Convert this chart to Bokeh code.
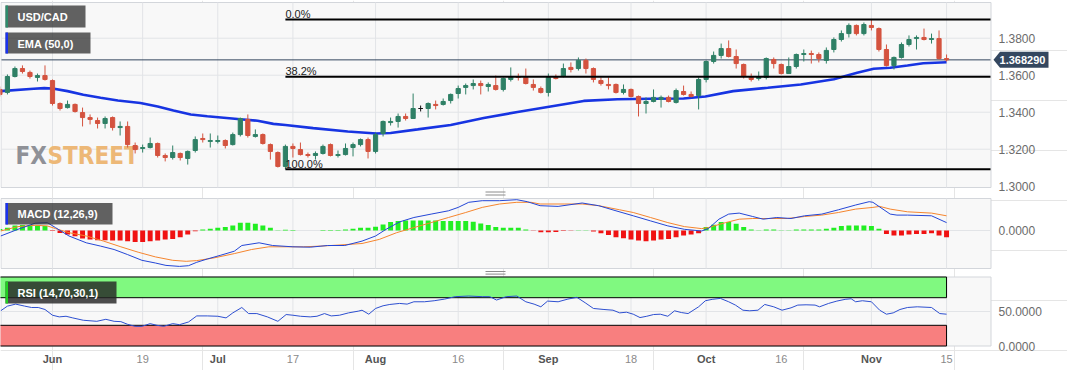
import numpy as np
from bokeh.plotting import figure
from bokeh.models import ColumnDataSource, Range1d
from bokeh.core.properties import value
from bokeh.embed import file_html
from bokeh.resources import INLINE

# ---------------------------------------------------------------- data
# trading-day index of the first candle (0 = 1 Jun 2023, 119 = 15 Nov 2023)
first_index = -7
opens = [1.3523, 1.3507, 1.3593, 1.3636, 1.3615, 1.3588, 1.3598,
         1.3571, 1.3447, 1.3425, 1.3442, 1.3398, 1.3371, 1.3355, 1.3339, 1.3371, 1.3317,
         1.3323, 1.3220, 1.3204, 1.3209, 1.3231, 1.3166, 1.3155, 1.3177, 1.3150, 1.3193,
         1.3258, 1.3242, 1.3242, 1.3247, 1.3225, 1.3279, 1.3361, 1.3269, 1.3279, 1.3225,
         1.3182, 1.3107, 1.3215, 1.3198, 1.3171, 1.3166, 1.3177, 1.3225, 1.3166, 1.3171,
         1.3209, 1.3225, 1.3252, 1.3188, 1.3285, 1.3344, 1.3350, 1.3377, 1.3366, 1.3420,
         1.3420, 1.3442, 1.3442, 1.3463, 1.3501, 1.3534, 1.3544, 1.3555, 1.3539, 1.3544,
         1.3523, 1.3577, 1.3593, 1.3588, 1.3550, 1.3528, 1.3507, 1.3588, 1.3593, 1.3642,
         1.3636, 1.3680, 1.3636, 1.3571, 1.3550, 1.3550, 1.3507, 1.3523, 1.3485, 1.3447,
         1.3458, 1.3469, 1.3480, 1.3453, 1.3512, 1.3496, 1.3490, 1.3577, 1.3674, 1.3707,
         1.3744, 1.3701, 1.3658, 1.3588, 1.3582, 1.3588, 1.3685, 1.3658, 1.3609, 1.3647,
         1.3712, 1.3717, 1.3712, 1.3680, 1.3739, 1.3793, 1.3825, 1.3869, 1.3825, 1.3869,
         1.3852, 1.3739, 1.3652, 1.3696, 1.3766, 1.3798, 1.3804, 1.3793, 1.3798, 1.3690]
highs = [1.3539, 1.3604, 1.3647, 1.3653, 1.3625, 1.3609, 1.3653,
         1.3577, 1.3453, 1.3463, 1.3447, 1.3425, 1.3388, 1.3371, 1.3377, 1.3377, 1.3350,
         1.3350, 1.3236, 1.3225, 1.3263, 1.3236, 1.3177, 1.3220, 1.3182, 1.3193, 1.3269,
         1.3285, 1.3285, 1.3274, 1.3253, 1.3290, 1.3371, 1.3388, 1.3307, 1.3285, 1.3231,
         1.3188, 1.3225, 1.3231, 1.3236, 1.3182, 1.3188, 1.3225, 1.3231, 1.3193, 1.3231,
         1.3236, 1.3258, 1.3263, 1.3290, 1.3355, 1.3371, 1.3393, 1.3393, 1.3501, 1.3436,
         1.3453, 1.3463, 1.3474, 1.3501, 1.3544, 1.3555, 1.3577, 1.3571, 1.3561, 1.3598,
         1.3588, 1.3642, 1.3609, 1.3636, 1.3577, 1.3539, 1.3609, 1.3604, 1.3663, 1.3669,
         1.3696, 1.3690, 1.3642, 1.3588, 1.3588, 1.3555, 1.3550, 1.3528, 1.3490, 1.3480,
         1.3523, 1.3490, 1.3490, 1.3528, 1.3544, 1.3512, 1.3588, 1.3680, 1.3728, 1.3771,
         1.3788, 1.3739, 1.3663, 1.3609, 1.3620, 1.3696, 1.3696, 1.3663, 1.3696, 1.3717,
         1.3739, 1.3733, 1.3723, 1.3750, 1.3804, 1.3842, 1.3880, 1.3874, 1.3885, 1.3901,
         1.3858, 1.3766, 1.3701, 1.3777, 1.3815, 1.3815, 1.3852, 1.3825, 1.3842, 1.3712]
lows = [1.3485, 1.3496, 1.3588, 1.3609, 1.3582, 1.3566, 1.3571,
        1.3436, 1.3409, 1.3420, 1.3398, 1.3323, 1.3334, 1.3312, 1.3312, 1.3301, 1.3274,
        1.3209, 1.3177, 1.3182, 1.3204, 1.3155, 1.3134, 1.3144, 1.3139, 1.3117, 1.3182,
        1.3236, 1.3209, 1.3231, 1.3204, 1.3220, 1.3269, 1.3263, 1.3263, 1.3225, 1.3144,
        1.3101, 1.3092, 1.3155, 1.3166, 1.3155, 1.3144, 1.3171, 1.3161, 1.3155, 1.3166,
        1.3161, 1.3215, 1.3150, 1.3177, 1.3269, 1.3328, 1.3317, 1.3355, 1.3366, 1.3404,
        1.3371, 1.3415, 1.3436, 1.3447, 1.3474, 1.3496, 1.3523, 1.3496, 1.3512, 1.3517,
        1.3512, 1.3566, 1.3571, 1.3550, 1.3517, 1.3501, 1.3485, 1.3577, 1.3588, 1.3615,
        1.3625, 1.3609, 1.3561, 1.3544, 1.3523, 1.3501, 1.3496, 1.3480, 1.3377, 1.3393,
        1.3453, 1.3425, 1.3453, 1.3447, 1.3490, 1.3480, 1.3415, 1.3561, 1.3663, 1.3690,
        1.3696, 1.3636, 1.3582, 1.3566, 1.3571, 1.3577, 1.3636, 1.3604, 1.3609, 1.3636,
        1.3674, 1.3663, 1.3669, 1.3663, 1.3723, 1.3782, 1.3804, 1.3815, 1.3815, 1.3842,
        1.3728, 1.3647, 1.3631, 1.3690, 1.3755, 1.3739, 1.3788, 1.3771, 1.3685, 1.3674]
closes = [1.3496, 1.3593, 1.3636, 1.3620, 1.3593, 1.3598, 1.3577,
          1.3447, 1.3420, 1.3442, 1.3404, 1.3371, 1.3361, 1.3339, 1.3366, 1.3317, 1.3323,
          1.3225, 1.3198, 1.3209, 1.3231, 1.3166, 1.3155, 1.3182, 1.3155, 1.3188, 1.3252,
          1.3252, 1.3247, 1.3247, 1.3220, 1.3279, 1.3366, 1.3274, 1.3279, 1.3231, 1.3188,
          1.3107, 1.3215, 1.3204, 1.3171, 1.3166, 1.3177, 1.3215, 1.3166, 1.3171, 1.3204,
          1.3225, 1.3252, 1.3188, 1.3279, 1.3350, 1.3350, 1.3377, 1.3366, 1.3420, 1.3420,
          1.3447, 1.3436, 1.3458, 1.3496, 1.3528, 1.3544, 1.3555, 1.3544, 1.3550, 1.3523,
          1.3582, 1.3593, 1.3588, 1.3555, 1.3534, 1.3507, 1.3588, 1.3582, 1.3636, 1.3631,
          1.3680, 1.3636, 1.3577, 1.3555, 1.3544, 1.3507, 1.3523, 1.3485, 1.3447, 1.3458,
          1.3480, 1.3480, 1.3458, 1.3517, 1.3496, 1.3485, 1.3577, 1.3674, 1.3707, 1.3744,
          1.3701, 1.3663, 1.3593, 1.3577, 1.3593, 1.3690, 1.3663, 1.3609, 1.3647, 1.3712,
          1.3717, 1.3712, 1.3690, 1.3734, 1.3793, 1.3825, 1.3869, 1.3825, 1.3874, 1.3858,
          1.3739, 1.3652, 1.3696, 1.3766, 1.3793, 1.3804, 1.3793, 1.3798, 1.3690, 1.36829]

ema_idx = [-6.9, -2.5, -1.1, 0, 2, 4.1, 6.4, 8.7, 11.7, 14, 16.1, 18.4, 20.6, 22.8, 25,
           27.3, 29.4, 31, 34.7, 39.3, 43.1, 45, 48.6, 53, 57.4, 61.9, 66.3, 70.7, 75.2,
           79.6, 84, 86.9, 90.6, 95.2, 99.6, 104, 107.1, 109.3, 111.5, 113.8, 115.9, 119]
ema_val = [1.3514, 1.3527, 1.3530, 1.3528, 1.3514, 1.3494, 1.3478, 1.3463, 1.3450, 1.3431,
           1.3409, 1.3388, 1.3378, 1.3370, 1.3362, 1.3354, 1.3337, 1.3331, 1.3314, 1.3296,
           1.3285, 1.3288, 1.3307, 1.3331, 1.3369, 1.3401, 1.3431, 1.3461, 1.3470, 1.3473,
           1.3474, 1.3485, 1.3514, 1.3532, 1.3550, 1.3578, 1.3613, 1.3635, 1.3640, 1.3652,
           1.3665, 1.3670]

fib_start_index = 31
fib_levels = [1.3901, 1.3592, 1.3092]
fib_labels = ["0.0%", "38.2%", "100.0%"]

# MACD values in units of 1e-4
macd_idx = [-6.9, -4.6, -2.3, -0.7, 0.4, 2.2, 4.5, 6.4, 8.2, 10, 11.9, 13.7, 15.1, 16.9, 18.1,
            19.2, 20.6, 22.4, 24.2, 25.2, 27.5, 29.3, 32, 34.3, 36.6, 38.9, 41.2, 43, 44.4,
            46.2, 48.1, 50.4, 52.7, 54, 55.4, 57.2, 59.5, 61.8, 63.2, 64.9, 67.3, 70.5, 72.7,
            75, 77.3, 79.6, 81.9, 84.1, 86.4, 87.3, 88.7, 90, 91.4, 93.2, 94.6, 96.4, 98.3,
            100.1, 102.4, 104.6, 106.9, 108.7, 109.2, 111.5, 112.4, 113.8, 117, 119]
macd_e4 = [-5.5, 1.2, 7.3, 7.9, 2.9, -5.5, -12.3, -15.6, -19, -24.1, -29.8, -32.5, -34.9,
           -35.9, -35.2, -31.8, -28.5, -24.7, -20.7, -15, -12.3, -15, -16.3, -16.7, -15, -15,
           -10.6, -5.5, 1.2, 8.6, 13, 16.4, 19.7, 23.1, 28.2, 29.8, 29.8, 30.8, 28.8, 24.8,
           24.1, 27.5, 24.8, 19.7, 14.7, 9.6, 4.6, 1.2, -0.5, 1.9, 11.3, 16.4, 17.4, 14, 11.3,
           13, 12, 14.7, 16.4, 20.7, 25.5, 28.8, 28.2, 16.4, 15.4, 15.4, 14.7, 7.9]
signal_idx = [-6.9, -4.6, -2.3, -0.7, 0.4, 2.2, 4.5, 6.8, 9.1, 11.4, 13.7, 16, 17.8, 19.2,
              21.5, 24.2, 26.5, 28.8, 31.1, 33.4, 35.7, 38, 41.2, 43.5, 45.8, 48.1, 50.4,
              52.7, 55, 57.2, 59.5, 61.8, 63.7, 64.9, 68.2, 70.5, 72.7, 75.5, 77.3, 79.6,
              81.9, 84.1, 86.4, 87.3, 89.6, 91.4, 93.2, 95.5, 97.8, 100.1, 102.4, 104.6,
              106.9, 109.2, 110.1, 111.5, 113.8, 117, 119]
signal_e4 = [-0.5, 3.9, 5.2, 4.6, 1.9, -2.2, -5.5, -10.6, -16.3, -21.7, -26.4, -29.8, -30.8,
             -30.1, -27.4, -23.1, -19, -16.3, -16.3, -16.3, -15.6, -14.6, -13, -8.9, -2.2,
             2.9, 7.9, 13, 18, 23.1, 26.5, 28.2, 28.2, 26.5, 26.5, 26.5, 24.8, 20.7, 18, 13,
             7.9, 3.9, 1.9, 2.9, 7.9, 11.3, 12, 12, 12, 14, 15.4, 18, 21.4, 23.1, 24.1, 21.4,
             18.7, 17.4, 14.7]
hist_e4 = [1.5, 2.7, 5.1, 5.4, 5.4, 5.1, 4.4,
           -0.5, -2.4, -4, -5.7, -8.1, -9.1, -9.8, -9.8, -10.1, -10.1,
           -10.8, -11.5, -11.5, -10.8, -10.1, -9.1, -8.4, -6.7, -4, -0.7,
           1, 1.7, 2.7, 3.4, 5.1, 7.7, 7.7, 6.7, 5.1, 2.7,
           0.2, 0.8, 0.6, 0.1, 0, 0.1, 0.6, 0.6, 0.6, 1,
           1.7, 2.7, 2.7, 3.7, 6.1, 8.4, 9.4, 10.1, 10.1, 10.1,
           10.1, 10.1, 9.4, 9.4, 9.4, 9.4, 8.8, 7.1, 5.4, 3.4,
           2.7, 2.7, 2.7, 1, -0.3, -1.7, -1.7, -1.4, -0.5, -0.2,
           0.3, 0.3, -1, -2.7, -4.4, -6.7, -7.7, -9.1, -10.1, -10.8,
           -10.1, -9.1, -8.4, -6.7, -5.1, -4, -2.7, 3.4, 5.7, 8.4,
           8.4, 6.7, 3.4, 1, 0.3, 1, 1, 0.2, 0.2, 1,
           1, 1, 1, 1.7, 2.7, 4.4, 5.1, 5.1, 5.1, 4.4,
           1.7, -3.4, -5.1, -5.1, -4, -3.4, -3.4, -2.7, -5.1, -6.7]

rsi_idx = [-6.9, -6.0, -4.9, -3.7, -2.8, -1.9, -1.0, 0, 0.9, 1.8,
           2.7, 4.1, 5.9, 7.1, 8.2, 9.1, 10, 11, 11.9, 13,
           13.9, 14.8, 16, 16.9, 18.1, 19.2, 20.6, 22, 23.1, 24,
           25.2, 26.1, 27.2, 28.6, 30, 31.1, 32, 33, 34.3, 35.2,
           36.2, 37.1, 38.2, 39.4, 40.7, 41.2, 42.1, 43, 44, 44.9,
           46.2, 47.2, 48.1, 49.5, 50.8, 52.2, 53.6, 55.4, 57.2, 58.2,
           59.1, 60.4, 61.8, 63, 64.1, 65, 65.9, 67.3, 68.6, 69.8,
           70.9, 72, 73.4, 74.6, 75.5, 76.4, 77.3, 78.2, 79.1, 80,
           80.9, 81.9, 82.8, 83.7, 84.6, 86, 86.9, 87.8, 88.9, 90,
           90.9, 91.9, 92.8, 93.9, 94.8, 96, 97.1, 98.3, 99.2, 100.3,
           101.5, 102.1, 103.3, 104.4, 105.5, 106.3, 106.9, 107.8, 109, 110.1,
           111, 111.9, 112.8, 113.8, 115.1, 117, 118.1, 119]
rsi_val = [51.0, 57.8, 60.7, 57.8, 55.8, 55.8, 52.9, 44.6, 42.2, 43.1,
           40.7, 37.3, 35.8, 38.7, 35.8, 35.3, 31.4, 28.5, 28.5, 32.4,
           30, 28.5, 32.4, 30.9, 34.8, 43.6, 43.6, 43.1, 40.7, 48,
           55.8, 47, 47, 42.2, 35.8, 45.6, 44.6, 43.1, 42.2, 43.1,
           47, 43.6, 44.6, 48, 50.5, 51.9, 46.1, 54.4, 58.3, 60.2,
           61.7, 60.7, 64.1, 64.1, 65.6, 68, 71.5, 72.4, 71.5, 71.5,
           66.6, 71.5, 72.4, 64.1, 60.7, 56.8, 65.1, 64.1, 68, 70.5,
           62.7, 54.4, 52.9, 51.9, 48, 49, 46.1, 41.2, 43.1, 45.6,
           46.1, 43.1, 51, 48.5, 47, 56.8, 65.6, 67.6, 69, 64.1,
           59.3, 51.9, 51, 51.9, 60.2, 56.8, 51.9, 55.3, 59.3, 59.7,
           59.3, 56.8, 61.7, 65.1, 67.6, 68.5, 64.1, 65.6, 64.1, 51.9,
           46.1, 48, 52.9, 55.8, 56.8, 55.8, 47, 46.1]
rsi_upper, rsi_lower = 70, 30

tick_idx = [0, 12, 22, 32, 43, 54, 66, 77, 87, 97, 109, 119]
tick_labels = ["Jun", "19", "Jul", "17", "Aug", "16", "Sep", "18", "Oct", "16", "Nov", "15"]
tick_is_month = [True, False, True, False, True, False, True, False, True, False, True, False]

price_ticks = [1.30, 1.32, 1.34, 1.36, 1.38]
macd_ticks = [0.0]
rsi_ticks = [0, 50]

# ---------------------------------------------------------------- style / layout (pixels)
FONT = "Liberation Sans"
UP, DOWN, DOJI = "#2f8066", "#d4533f", "#111111"
EMA_C = "#1734e2"
BG, GRID, OUTLINE = "#f8f8f8", "#e2e4e7", "#d3d6db"
W, H = 1067, 370
PANEL_R = 990                    # right edge of the three panels
BAR_PX, IDX0_PX = 7.513, 52.0    # candle spacing, pixel of index 0
MAIN = (2, 187)                  # panel top / bottom pixel rows
MACD = (198, 268)
RSI = (276.5, 345.5)
LAB_X = 998                      # left of right-hand value labels


def xd(px):
    return (px - IDX0_PX) / BAR_PX


def lin_range(v_top, py_top, v_bot, py_bot):
    k = (v_top - v_bot) / (py_bot - py_top)
    return Range1d(start=v_bot - (H - py_bot) * k, end=v_top + py_top * k)


PRICE_PER_PX = (1.3993 - 1.2993) / (MAIN[1] - MAIN[0])

p = figure(width=W, height=H, x_range=Range1d(xd(0), xd(W)), y_range=Range1d(H, 0),
           x_axis_location=None, y_axis_location=None, toolbar_location=None,
           output_backend="svg", min_border=0, title=None, outline_line_color=None,
           background_fill_color="white", border_fill_color="white")
p.extra_x_ranges = {"px": Range1d(0, W)}
p.extra_y_ranges = {"price": lin_range(1.3993, MAIN[0], 1.2993, MAIN[1]),
                    "macd": lin_range(0.0032, MACD[0], -0.0038, MACD[1]),
                    "rsi": lin_range(100, RSI[0], 0, RSI[1])}


def txt(x, y, t, xr="default", yr="default", size="11px", color="white", style="normal",
        align="left", font=FONT, alpha=1.0):
    p.text(x=x, y=y, text=t, x_range_name=xr, y_range_name=yr, text_font=value(font),
           text_font_size=size, text_color=color, text_font_style=style, text_align=align,
           text_baseline="middle", text_alpha=alpha)


def legend_box(px0, px1, py0, py1, text, stripe, fill="#333333", alpha=0.77):
    p.quad(left=[px0], right=[px1], top=[py0], bottom=[py1], x_range_name="px",
           fill_color=fill, fill_alpha=alpha, line_color=None)
    p.quad(left=[px0], right=[px0 + 2.5], top=[py0], bottom=[py1], x_range_name="px",
           fill_color=stripe, line_color=None)
    txt([px0 + 12], [(py0 + py1) / 2.0 + 0.5], [text], xr="px", style="bold")


# panels, grids
for top, bot in (MAIN, MACD, RSI):
    p.quad(left=[0.5], right=[PANEL_R + 0.5], top=[top], bottom=[bot], x_range_name="px",
           fill_color=BG, line_color=OUTLINE, line_width=1)
    p.segment(x0=tick_idx, x1=tick_idx, y0=[top] * len(tick_idx), y1=[bot] * len(tick_idx),
              line_color=GRID, line_width=1)
for ticks, rng in ((price_ticks[1:], "price"), (macd_ticks, "macd"), (rsi_ticks[1:], "rsi")):
    p.segment(x0=[xd(1)] * len(ticks), x1=[xd(PANEL_R)] * len(ticks), y0=ticks, y1=ticks,
              y_range_name=rng, line_color=GRID, line_width=1)

# grips between panels
for gy in (191.5, 194.5, 271.0, 273.6):
    p.segment(x0=[485], x1=[505], y0=[gy], y1=[gy], x_range_name="px",
              line_color="#8c8c8c", line_width=1)

# ---------------------------------------------------------------- price panel
txt([15], [155], ["FX"], xr="px", size="24px", style="bold", color="#8f9197",
    font="DejaVu Sans Condensed")
txt([47], [155], ["STREET"], xr="px", size="24px", style="bold", color="#edb877",
    font="DejaVu Sans Condensed")

idx = np.arange(first_index, first_index + len(opens))
o, h, l, c = (np.array(v) for v in (opens, highs, lows, closes))
cols = np.where(c > o, UP, np.where(c < o, DOWN, DOJI))
src = ColumnDataSource(dict(x=idx, h=h, l=l, top=np.maximum(o, c),
                            bottom=np.minimum(o, c), color=cols))

last_close = closes[-1]
p.segment(x0=[xd(1)], x1=[xd(PANEL_R)], y0=[last_close], y1=[last_close], y_range_name="price",
          line_color="#34475f", line_width=1)
p.line(ema_idx, ema_val, y_range_name="price", line_color=EMA_C, line_width=2.6)
p.segment(x0="x", x1="x", y0="l", y1="h", line_color="color", line_width=1, source=src,
          y_range_name="price")
p.vbar(x="x", width=0.56, top="top", bottom="bottom", fill_color="color", line_color="color",
       line_width=1, source=src, y_range_name="price")

p.segment(x0=[fib_start_index] * 3, x1=[xd(PANEL_R)] * 3, y0=fib_levels, y1=fib_levels,
          y_range_name="price", line_color="black", line_width=2)
txt([fib_start_index] * 3, [v + 5.5 * PRICE_PER_PX for v in fib_levels], fib_labels,
    yr="price", color="#222222")

legend_box(5, 85, 5, 27, "USD/CAD", "#2e8b6c")
legend_box(5, 90, 32, 53, "EMA (50,0)", "#1a32f0")

txt([LAB_X] * len(price_ticks), price_ticks, [f"{v:.4f}" for v in price_ticks], xr="px",
    yr="price", size="12px", color="#6b6b6b")

hp = 8 * PRICE_PER_PX
p.patch(x=[993, 999.5, 1048, 1048, 999.5],
        y=[last_close, last_close + hp, last_close + hp, last_close - hp, last_close - hp],
        x_range_name="px", y_range_name="price", fill_color="#34475f", line_color=None)
txt([1022], [last_close], [f"{last_close:.6f}"], xr="px", yr="price", style="bold",
    align="center")

# ---------------------------------------------------------------- MACD panel
hist = np.array(hist_e4) * 1e-4
hcol = np.where(hist >= 0, "#22ee22", "#f01212")
p.vbar(x=idx, top=hist, bottom=0, width=0.66, fill_color=hcol, line_color=None,
       y_range_name="macd")
p.line(signal_idx, np.array(signal_e4) * 1e-4, y_range_name="macd", line_color="#f5852e",
       line_width=1)
p.line(macd_idx, np.array(macd_e4) * 1e-4, y_range_name="macd", line_color="#2446d6",
       line_width=1)
legend_box(5, 112, 202.5, 224, "MACD (12,26,9)", "#1a32f0")
txt([LAB_X], macd_ticks, [f"{v:.4f}" for v in macd_ticks], xr="px", yr="macd",
    size="12px", color="#6b6b6b")

# ---------------------------------------------------------------- RSI panel
p.quad(left=[idx[0] - 0.5], right=[idx[-1]], bottom=[rsi_upper], top=[100],
       y_range_name="rsi", fill_color="#80f980", line_color="black", line_width=1)
p.quad(left=[idx[0] - 0.5], right=[idx[-1]], bottom=[0], top=[rsi_lower],
       y_range_name="rsi", fill_color="#f87f7f", line_color="black", line_width=1)
p.line(rsi_idx, rsi_val, y_range_name="rsi", line_color="#2d4fd0", line_width=1)
legend_box(5, 116, 281, 303, "RSI (14,70,30,1)", "#22d022", fill="#262626", alpha=0.82)
txt([LAB_X] * len(rsi_ticks), rsi_ticks, [f"{v:.4f}" for v in rsi_ticks], xr="px", yr="rsi",
    size="12px", color="#6b6b6b")

# ---------------------------------------------------------------- date labels
ti = np.array(tick_idx)
tl = np.array(tick_labels)
tm = np.array(tick_is_month)
txt(list(ti[tm]), [358] * int(tm.sum()), list(tl[tm]), size="11px", style="bold",
    color="#555555", align="center")
txt(list(ti[~tm]), [358] * int((~tm).sum()), list(tl[~tm]), size="11px",
    color="#8a8a8a", align="center")

open("out.html", "w").write(file_html(p, INLINE))
